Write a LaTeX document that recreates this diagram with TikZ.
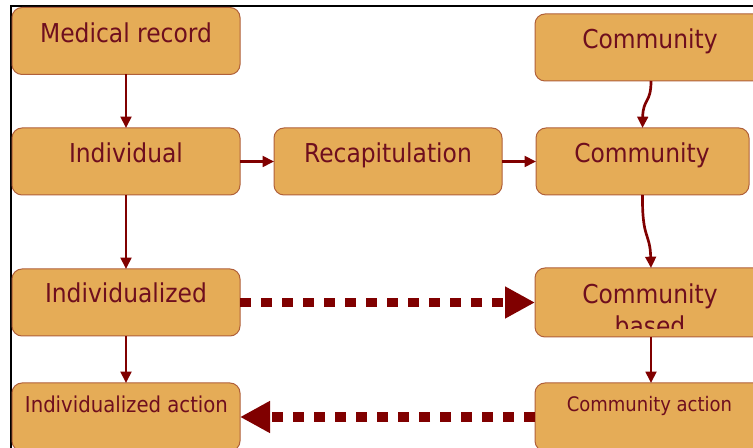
\documentclass[tikz,border=0pt]{standalone}
\usepackage{fontspec}
\setmainfont{DejaVu Sans Condensed}
\usetikzlibrary{arrows.meta}
\definecolor{boxfill}{HTML}{E5AC57}
\definecolor{boxline}{HTML}{B0603A}
\definecolor{txtcol}{HTML}{6E0E1E}
\definecolor{arrcol}{HTML}{800000}
\tikzset{
  box/.style={draw=boxline, fill=boxfill, line width=0.75pt, rounded corners=7.5pt,
    inner sep=0pt, outer sep=0pt, minimum width=171pt, minimum height=50.25pt},
  lbl/.style={text=txtcol, anchor=base, inner sep=0pt, font=\fontsize{19.5}{23}\selectfont},
  slbl/.style={text=txtcol, anchor=base, inner sep=0pt, font=\fontsize{16.4}{20}\selectfont},
  xslbl/.style={text=txtcol, anchor=base, inner sep=0pt, font=\fontsize{15}{18}\selectfont},
  conn/.style={draw=arrcol, line width=2pt, -{Triangle[length=8.5pt,width=8pt]}},
  dotconn/.style={draw=arrcol, line width=7pt, dash pattern=on 8.25pt off 7.5pt,
    -{Triangle[length=22.5pt,width=22.5pt]}},
}
\begin{document}
\begin{tikzpicture}[x=0.75pt,y=-0.75pt]
\useasboundingbox (0,0) rectangle (753,448);
\clip (0,0) rectangle (753,448);
\fill[white] (0,0) rectangle (753,448);
% frame
\draw[black, line width=0.9pt] (11,448) -- (11,6) -- (753,6);
% boxes
\node[box] (med) at (126,41) {};
\node[box] (ind) at (126,161.5) {};
\node[box] (izd) at (126,302.5) {};
\node[box, minimum height=51pt] (ia) at (126,417) {};
\node[box] (rec) at (388,161.5) {};
\node[box, minimum width=174pt] (ct) at (651,47.5) {};
\node[box, minimum width=159.75pt] (cm) at (642.5,161.5) {};
\node[box, minimum width=174pt, minimum height=51.75pt] (cb) at (651,302.5) {};
\node[box, minimum width=174pt, minimum height=51pt] (ca) at (651,417) {};
% labels
\node[lbl] (tmed) at (126,43) {Medical record};
\node[lbl] (tind) at (126,163) {Individual};
\node[lbl] (tizd) at (126,303) {Individualized};
\node[slbl] (tia) at (126.5,413) {Individualized action};
\node[lbl] (trec) at (388,163) {Recapitulation};
\node[lbl] (tct) at (650,49) {Community};
\node[lbl] (tcm) at (642,163) {Community};
\node[lbl] (tcb) at (650,304) {Community};
\begin{scope}
\clip (536,268) rectangle (766,329);
\node[lbl] (tcb2) at (650,336) {based};
\end{scope}
\node[xslbl] (tca) at (649.5,412) {Community action};
% connectors
\draw[conn] (med.south) -- (ind.north);
\draw[conn] (ind.south) -- (izd.north);
\draw[conn] (izd.south) -- (ia.north);
\draw[conn] (ind.east) -- (rec.west);
\draw[conn] (rec.east) -- (cm.west);
\draw[conn] (ct.south) .. controls (651,104) and (643,98) .. (cm.north);
\draw[conn] (cm.south) .. controls (642,240) and (650,232) .. (cb.north);
\draw[conn] (cb.south) -- (ca.north);
\draw[dotconn] (izd.east) -- (cb.west);
\draw[dotconn] (ca.west) -- (ia.east);
\end{tikzpicture}
\end{document}
